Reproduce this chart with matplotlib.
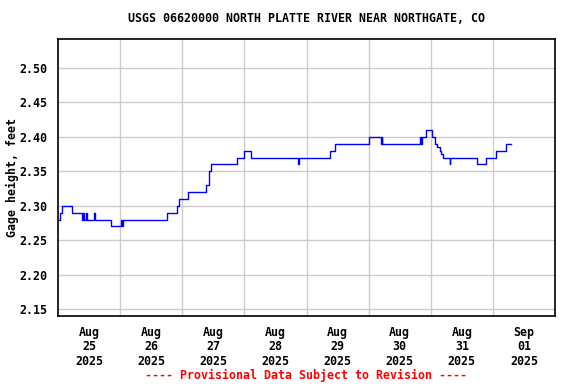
import matplotlib
matplotlib.use("Agg")
import matplotlib.pyplot as plt
from datetime import datetime, timedelta

# Gage height step changes: hours since 2025-08-25 00:00, value (ft)
hours = [0.0, 0.9, 1.55, 5.5, 9.3, 9.7, 10.0, 10.8, 11.1, 14.1, 14.4, 20.4,
         24.4, 24.65, 25.3, 42.3, 45.9, 46.7, 50.2, 57.0, 58.2, 59.1, 69.2,
         71.7, 74.6, 92.8, 93.1, 105.2, 107.0, 120.1, 124.6, 125.0, 125.3,
         139.7, 140.1, 140.5, 142.1, 144.5, 145.5, 146.3, 147.6, 148.0, 148.6,
         151.3, 151.6, 161.8, 165.3, 169.1, 173.0, 175.0]
gage = [2.28, 2.29, 2.30, 2.29, 2.28, 2.29, 2.28, 2.29, 2.28, 2.29, 2.28, 2.27,
        2.28, 2.27, 2.28, 2.29, 2.30, 2.31, 2.32, 2.33, 2.35, 2.36, 2.37,
        2.38, 2.37, 2.36, 2.37, 2.38, 2.39, 2.40, 2.39, 2.40, 2.39,
        2.40, 2.39, 2.40, 2.41, 2.40, 2.39, 2.385, 2.38, 2.375, 2.37,
        2.36, 2.37, 2.36, 2.37, 2.38, 2.39, 2.39]

day_labels = ["Aug\n25\n2025", "Aug\n26\n2025", "Aug\n27\n2025", "Aug\n28\n2025",
              "Aug\n29\n2025", "Aug\n30\n2025", "Aug\n31\n2025", "Sep\n01\n2025"]
y_ticks = [2.15, 2.20, 2.25, 2.30, 2.35, 2.40, 2.45, 2.50]

start = datetime(2025, 8, 25)
times = [start + timedelta(hours=h) for h in hours]

plt.rcParams['font.family'] = 'DejaVu Sans Mono'
plt.rcParams['font.weight'] = 'bold'
fs = 8.4

fig = plt.figure(figsize=(5.76, 3.84), dpi=100)
ax = fig.add_axes([58 / 576, 1 - 316 / 384, 497 / 576, 277 / 384])

ax.plot(times, gage, drawstyle='steps-post', color='#0000ff', linewidth=1)

ax.set_xlim(start, start + timedelta(days=8))
ax.set_ylim(2.14, 2.542)

# gridlines at midnight, labels at noon
ax.set_xticks([start + timedelta(days=d) for d in range(1, 8)])
ax.set_xticks([start + timedelta(days=d, hours=12) for d in range(8)], minor=True)
ax.set_xticklabels([], minor=False)
ax.set_xticklabels(day_labels, minor=True, fontsize=fs, fontweight='bold',
                   linespacing=1.17)
ax.tick_params(axis='x', which='both', length=0, pad=7)

ax.set_yticks(y_ticks)
ax.set_yticklabels([f"{v:.2f}" for v in y_ticks], fontsize=fs, fontweight='bold')
ax.tick_params(axis='y', length=0, pad=8)

ax.grid(True, which='major', color='#cccccc', linewidth=1)
ax.set_axisbelow(True)
for s in ax.spines.values():
    s.set_linewidth(1.2)
    s.set_color('black')

ax.set_ylabel('Gage height, feet', fontsize=fs, fontweight='bold', labelpad=0)
fig.text(307 / 576, 1 - 19 / 384, 'USGS 06620000 NORTH PLATTE RIVER NEAR NORTHGATE, CO',
         ha='center', va='center', fontsize=fs, fontweight='bold')
fig.text(306 / 576, 1 - 375 / 384, '---- Provisional Data Subject to Revision ----',
         ha='center', va='center', fontsize=fs, fontweight='bold', color='red')

fig.savefig('out.png', dpi=100)
